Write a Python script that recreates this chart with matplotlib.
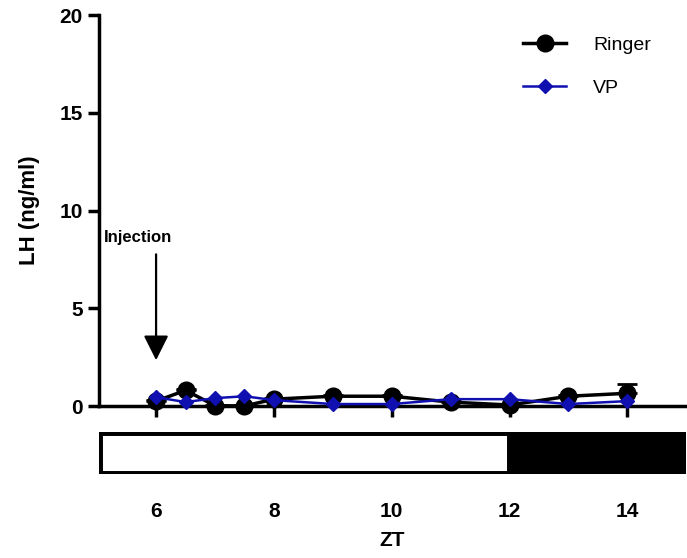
import matplotlib.pyplot as plt
from matplotlib.lines import Line2D

# data
zt = [6, 6.5, 7, 7.5, 8, 9, 10, 11, 12, 13, 14]
ringer = [0.25, 0.8, 0.02, 0.0, 0.35, 0.5, 0.5, 0.2, 0.05, 0.5, 0.65]
ringer_sem = [0.05, 0.05, 0.05, 0.05, 0.05, 0.05, 0.05, 0.05, 0.05, 0.05, 0.5]
vp = [0.45, 0.2, 0.4, 0.5, 0.3, 0.1, 0.1, 0.35, 0.35, 0.1, 0.25]
xticks = [6, 8, 10, 12, 14]
yticks = [0, 5, 10, 15, 20]
light_dark = [(5.03, 12, 'white'), (12, 15, 'black')]

plt.rcParams['font.family'] = ['Liberation Sans', 'DejaVu Sans']
blue = '#1010b0'

fig = plt.figure(figsize=(6.87, 5.58), dpi=100)
ax = fig.add_axes([0.144, 0.2724, 0.855, 0.7007])

# upper error bars only, drawn under the markers
ax.errorbar(zt, ringer, yerr=[[0] * len(zt), ringer_sem], fmt='none', ecolor='black',
            elinewidth=2, capsize=7, capthick=2, clip_on=False, zorder=2)
ax.plot(zt, ringer, color='black', lw=2.5, marker='o', ms=12, clip_on=False, zorder=3)
ax.plot(zt, vp, color=blue, lw=1.8, marker='D', ms=7, clip_on=False, zorder=4)

ax.set_xlim(5.03, 15)
ax.set_ylim(0, 20)
ax.set_yticks(yticks)
ax.set_xticks(xticks)
ax.set_xticklabels([])
for s in ['top', 'right']:
    ax.spines[s].set_visible(False)
for s in ['left', 'bottom']:
    ax.spines[s].set_linewidth(2.5)
ax.tick_params(axis='both', width=2.5, length=8, labelsize=15)
for t in ax.get_yticklabels():
    t.set_fontweight('bold')
ax.set_ylabel('LH (ng/ml)', fontsize=16, fontweight='bold', labelpad=14)

# injection arrow
ax.annotate('', xy=(6, 2.2), xytext=(6, 7.9),
            arrowprops=dict(arrowstyle='-|>', color='black', lw=1.6, mutation_scale=38))
ax.text(5.12, 8.6, 'Injection', fontsize=12, fontweight='bold', ha='left', va='center')

handles = [Line2D([], [], color='black', lw=2.5, marker='o', ms=12),
           Line2D([], [], color=blue, lw=1.8, marker='D', ms=7)]
ax.legend(handles, ['Ringer', 'VP'], loc='upper right', bbox_to_anchor=(0.97, 0.99),
          frameon=False, fontsize=14, handlelength=2.2, labelspacing=1.3, handletextpad=1.4)

# light/dark bar
bx = fig.add_axes([0.144, 0.1505, 0.855, 0.0753])
for x0, x1, c in light_dark:
    bx.axvspan(x0, x1, color=c, zorder=1)
bx.add_patch(plt.Rectangle((5.03, 0), 12 - 5.03, 1, fill=False, ec='black', lw=5, zorder=2))
bx.set_xlim(5.03, 15)
bx.set_ylim(0, 1)
bx.set_yticks([])
for s in bx.spines.values():
    s.set_visible(False)
bx.tick_params(axis='x', length=0, pad=20, labelsize=15)
bx.set_xticks(xticks)
bx.set_xticklabels([str(v) for v in xticks], fontweight='bold')
bx.set_xlabel('ZT', fontsize=15, fontweight='bold', labelpad=7)

fig.savefig('out.png', dpi=100)
